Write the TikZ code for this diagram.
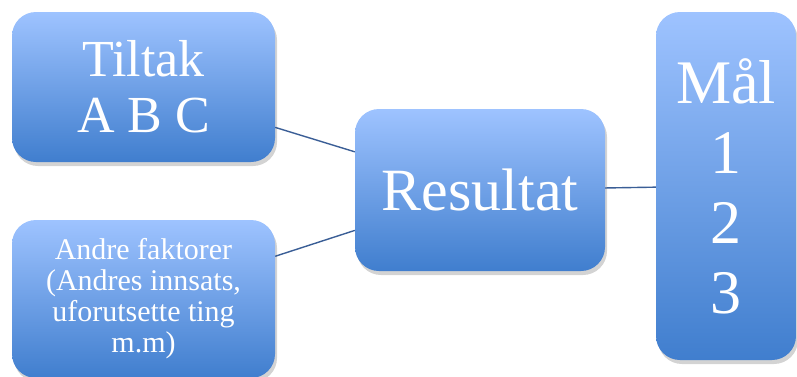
\documentclass[tikz,border=0pt]{standalone}
\usepackage{fontspec}
\setmainfont{Liberation Serif}
\usepackage{tikz}
\usetikzlibrary{shadows,positioning}

\definecolor{boxtop}{RGB}{158,195,255}
\definecolor{boxbot}{RGB}{64,126,206}
\definecolor{linkblue}{RGB}{58,94,150}

\begin{document}
\begin{tikzpicture}[
  x=1pt, y=1pt,
  blok/.style={rounded corners=24pt, top color=boxtop, bottom color=boxbot,
               text=white, align=center, inner sep=0pt,
               drop shadow={opacity=0.35, shadow xshift=2pt, shadow yshift=-4pt}},
  link/.style={draw=linkblue, line width=1.4pt}
]
\useasboundingbox (0,0) rectangle (797,-376);

\node[blok, minimum width=263pt, minimum height=150pt,
      font=\fontsize{52}{56}\selectfont] (tiltak) at (143.5,-87) {Tiltak\\A B C};
\node[blok, minimum width=263pt, minimum height=158pt,
      font=\fontsize{30}{31}\selectfont] (andre) at (143.5,-299)
      {Andre faktorer\\(Andres innsats,\\uforutsette ting\\m.m)};
\node[blok, minimum width=250pt, minimum height=162pt,
      font=\fontsize{60}{64}\selectfont] (resultat) at (480,-190) {Resultat};
\node[blok, minimum width=140pt, minimum height=348pt,
      font=\fontsize{62}{70}\selectfont] (maal) at (726,-186) {Mål\\1\\2\\3};

\draw[link] (tiltak) -- (resultat);
\draw[link] (andre) -- (resultat);
\draw[link] (resultat) -- (maal);
\end{tikzpicture}
\end{document}
